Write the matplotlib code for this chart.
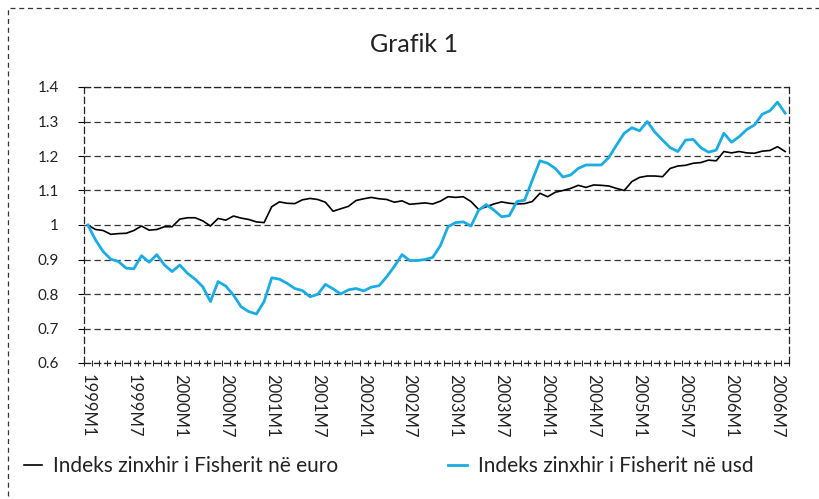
import numpy as np
import matplotlib
matplotlib.use("Agg")
from matplotlib import pyplot as plt
from matplotlib.patches import Rectangle

plt.rcParams['font.family'] = ['Lato', 'DejaVu Sans']

# monthly data 1999M1 .. 2006M8
years = list(range(1999, 2007))
months = [f"{y}M{m}" for y in years for m in range(1, 13)][:92]

euro = [1.000, 0.987, 0.984, 0.973, 0.975, 0.976, 0.984, 0.997, 0.985, 0.987,
        0.995, 0.995, 1.017, 1.021, 1.021, 1.012, 0.997, 1.019, 1.014, 1.026,
        1.020, 1.016, 1.009, 1.007, 1.053, 1.067, 1.063, 1.062, 1.073, 1.077,
        1.074, 1.066, 1.040, 1.047, 1.054, 1.071, 1.076, 1.080, 1.076, 1.074,
        1.066, 1.070, 1.060, 1.062, 1.064, 1.061, 1.069, 1.082, 1.080, 1.082,
        1.068, 1.045, 1.053, 1.061, 1.067, 1.063, 1.061, 1.062, 1.068, 1.092,
        1.082, 1.095, 1.100, 1.106, 1.115, 1.109, 1.116, 1.115, 1.113, 1.106,
        1.100, 1.126, 1.138, 1.142, 1.142, 1.140, 1.164, 1.171, 1.173, 1.179,
        1.181, 1.188, 1.186, 1.213, 1.209, 1.213, 1.209, 1.208, 1.214, 1.216,
        1.227, 1.213]

usd = [1.000, 0.957, 0.923, 0.901, 0.894, 0.875, 0.873, 0.911, 0.892, 0.914,
       0.884, 0.865, 0.884, 0.860, 0.843, 0.821, 0.778, 0.836, 0.823, 0.797,
       0.763, 0.749, 0.742, 0.778, 0.847, 0.843, 0.831, 0.816, 0.810, 0.792,
       0.799, 0.828, 0.815, 0.800, 0.812, 0.816, 0.809, 0.820, 0.824, 0.850,
       0.880, 0.914, 0.897, 0.897, 0.900, 0.906, 0.940, 0.995, 1.007, 1.009,
       0.997, 1.043, 1.059, 1.043, 1.024, 1.027, 1.068, 1.072, 1.130, 1.186,
       1.179, 1.164, 1.139, 1.145, 1.164, 1.174, 1.174, 1.174, 1.196, 1.232,
       1.266, 1.282, 1.273, 1.300, 1.269, 1.246, 1.224, 1.213, 1.246, 1.248,
       1.224, 1.211, 1.217, 1.266, 1.240, 1.256, 1.277, 1.290, 1.321, 1.331,
       1.356, 1.324]

series_names = ["Indeks zinxhir i Fisherit në euro", "Indeks zinxhir i Fisherit në usd"]
yticks = [0.6, 0.7, 0.8, 0.9, 1.0, 1.1, 1.2, 1.3, 1.4]
ytick_labels = ["0.6", "0.7", "0.8", "0.9", "1", "1.1", "1.2", "1.3", "1.4"]

fig = plt.figure(figsize=(8.19, 4.99), dpi=100)

# dashed frame around the whole chart
fig.patches.append(Rectangle((8 / 819, -0.1), 1.2, 1 - 8 / 499 + 0.1,
                             transform=fig.transFigure, fill=False,
                             ec='#333333', lw=0.9, ls=(0, (4, 3))))

ax = fig.add_axes([84 / 819, 1 - 363 / 499, (789 - 84) / 819, (363 - 87) / 499])

x = np.arange(len(months))
ax.plot(x, euro, color='black', lw=1.2, label=series_names[0])
ax.plot(x, usd, color='#1AADE5', lw=2.0, label=series_names[1])

ax.set_xlim(-0.5, len(months) - 0.5)
ax.set_ylim(0.6, 1.4)

ax.set_yticks(yticks)
ax.set_yticklabels(ytick_labels, fontsize=11, color='#222222')
ax.tick_params(axis='y', direction='out', length=4, width=0.8, pad=14)

ax.set_xticks(x[::6])
ax.set_xticklabels(months[::6], rotation=-90, fontsize=12, va='top', color='#222222')
ax.tick_params(axis='x', which='major', length=0, pad=8)
ax.set_xticks(np.arange(len(months) + 1) - 0.5, minor=True)
ax.tick_params(axis='x', which='minor', direction='inout', length=4, width=0.6)

ax.grid(axis='y', color='#333333', lw=0.9, ls=(0, (5, 3)))
ax.set_axisbelow(True)
for s in ax.spines.values():
    s.set_linestyle((0, (5, 3)))
    s.set_linewidth(0.9)
    s.set_color('#222222')

fig.text(414 / 819, 1 - 45 / 499, "Grafik 1", ha='center', va='center',
         fontsize=18, color='#222222')

leg = fig.legend(loc='center left', bbox_to_anchor=(0.006, 1 - 466 / 499), ncol=2,
                 frameon=False, fontsize=15, handlelength=0.9, handletextpad=0.5,
                 columnspacing=5.3)
for t in leg.get_texts():
    t.set_color('#222222')

fig.savefig("out.png", dpi=100)
